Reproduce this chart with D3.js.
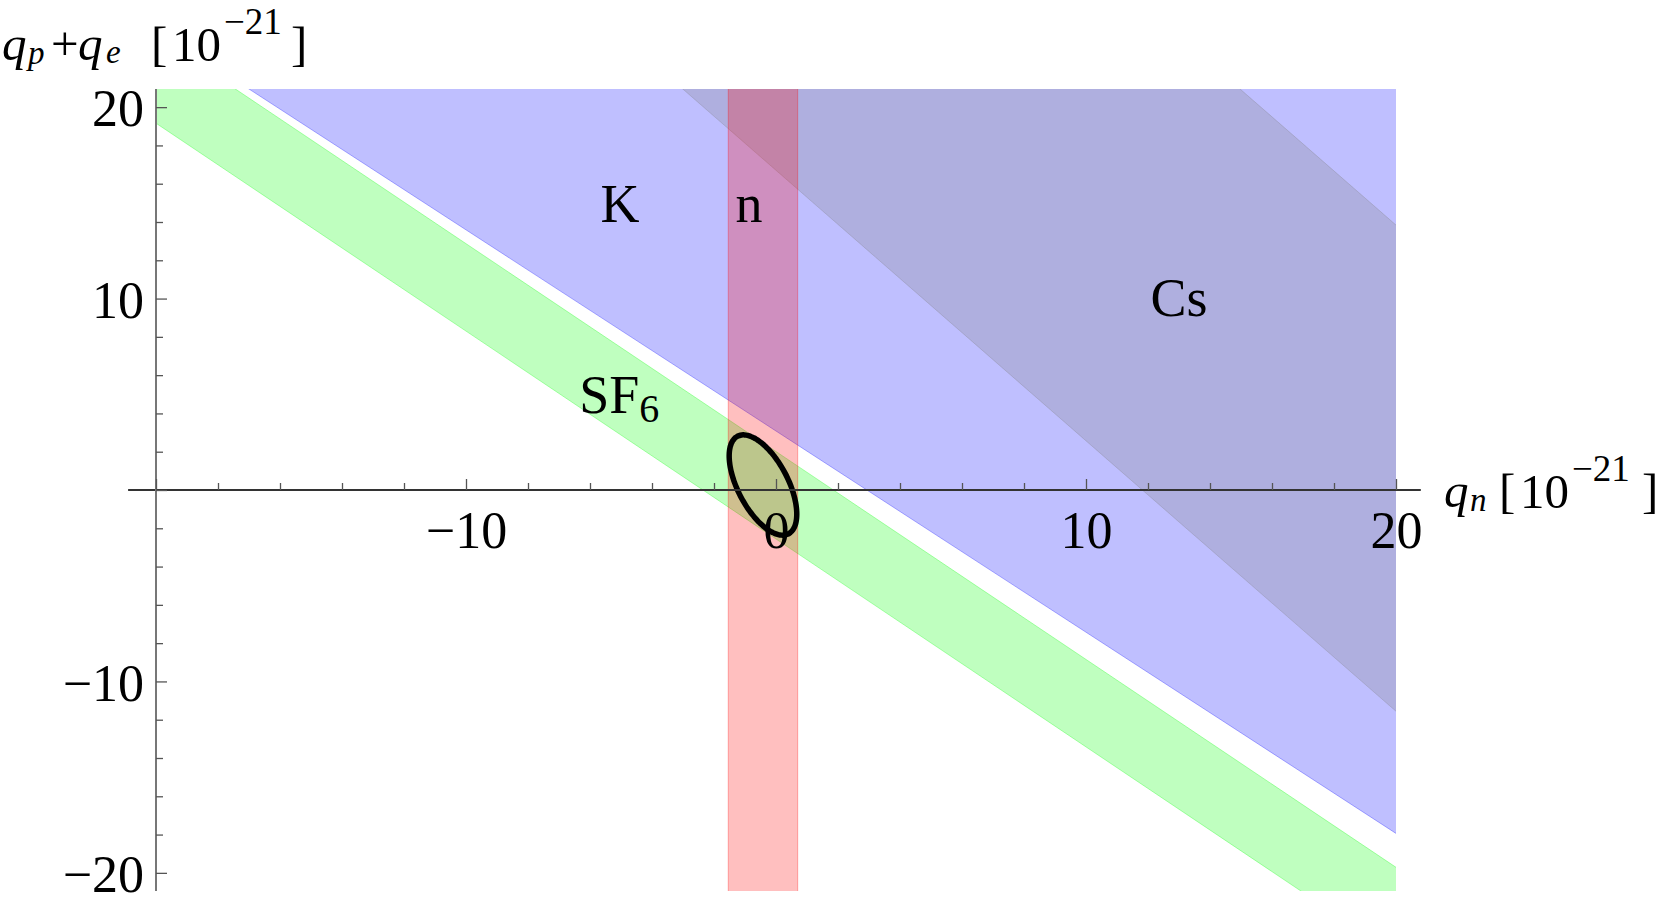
<html>
<head>
<meta charset="utf-8">
<style>
  body { margin: 0; background: #fff; }
  text { font-family: "Liberation Serif", "DejaVu Serif", serif; fill: #000; }
</style>
</head>
<body>
<svg width="1667" height="906" class="chart"></svg>
<script src="https://d3js.org/d3.v7.min.js" charset="utf-8"></script>
<script>
    // bands: q_p+q_e = slope * q_n + intercept, intercept between low and high
    bandNames = ["K", "Cs", "SF6"]
    bandSlopes = [-1.051, -1.413, -1.086]
    bandLow = [3.08, 16.7, -2.56]
    bandHigh = [60, 42.1, 2.01]
    bandColors = ["#0000ff", "#808080", "#00ff00"]
    // free neutron bound on q_n
    nRange = [-1.54, 0.70]
    // combined result: centre, half-extents, correlation
    ellCenter = [-0.42, 0.26]
    ellSigma = [1.09, 2.62]
    ellRho = -0.58
    xTicksMajor = [-20, -10, 0, 10, 20]
    xTickLabels = [-10, 0, 10, 20]
    yTicksMajor = [-20, -10, 0, 10, 20]
    yTickLabels = [-20, -10, 10, 20]
    minorTicks = d3.range(-20, 21, 2).filter(function(d){ return d % 10 != 0 })

    var svg = d3.select(".chart")
    var x = d3.scaleLinear().domain([-20, 20]).range([156, 1396])
    var y = d3.scaleLinear().domain([-21, 21]).range([892, 88])
    var xLo = -20, xHi = 20, yLo = -20.95, yHi = 20.95

    svg.append("clipPath").attr("id", "plot")
        .append("rect")
        .attr("x", x(xLo)).attr("y", y(yHi))
        .attr("width", x(xHi) - x(xLo)).attr("height", y(yLo) - y(yHi))

    var g = svg.append("g").attr("clip-path", "url(#plot)")
    var line = d3.line().x(function(d){ return x(d[0]) }).y(function(d){ return y(d[1]) })

    bandNames.forEach(function(name, i){
        var s = bandSlopes[i]
        var pts = [[xLo, s*xLo + bandLow[i]], [xHi, s*xHi + bandLow[i]],
                   [xHi, s*xHi + bandHigh[i]], [xLo, s*xLo + bandHigh[i]]]
        g.append("path").attr("d", line(pts) + "Z")
            .attr("fill", bandColors[i]).attr("fill-opacity", 0.25)
        ;[bandLow[i], bandHigh[i]].forEach(function(c){
            g.append("path").attr("d", line([[xLo, s*xLo + c], [xHi, s*xHi + c]]))
                .attr("fill", "none").attr("stroke", bandColors[i])
                .attr("stroke-opacity", 0.3).attr("stroke-width", 1)
        })
    })

    g.append("rect")
        .attr("x", x(nRange[0])).attr("y", y(yHi))
        .attr("width", x(nRange[1]) - x(nRange[0])).attr("height", y(yLo) - y(yHi))
        .attr("fill", "#ff0000").attr("fill-opacity", 0.25)
    nRange.forEach(function(v){
        g.append("path").attr("d", line([[v, yLo], [v, yHi]]))
            .attr("stroke", "#ff0000").attr("stroke-opacity", 0.3).attr("stroke-width", 1)
    })

    // ellipse outline
    var ang = d3.range(0, 361, 3).map(function(a){ return a * Math.PI / 180 })
    var dl = Math.acos(ellRho)
    var ell = ang.map(function(t){
        return [ellCenter[0] + ellSigma[0]*Math.cos(t), ellCenter[1] + ellSigma[1]*Math.cos(t - dl)]
    })
    g.append("path").attr("d", d3.line().curve(d3.curveCardinalClosed)
            .x(function(d){ return x(d[0]) }).y(function(d){ return y(d[1]) })(ell.slice(0, -1)))
        .attr("fill", "#bcc68c").attr("stroke", "#000").attr("stroke-width", 5.5)

    // axes
    var fs = 52
    svg.append("line").attr("x1", x(-20.9)).attr("x2", x(20.8))
        .attr("y1", y(0)).attr("y2", y(0)).attr("stroke", "#333").attr("stroke-width", 2)
    svg.append("line").attr("x1", x(-20)).attr("x2", x(-20))
        .attr("y1", y(yHi)).attr("y2", y(yLo)).attr("stroke", "#777").attr("stroke-width", 2)

    svg.append("g").attr("transform", "translate(0," + y(0) + ")")
        .call(d3.axisBottom(x).tickValues(xTicksMajor).tickSizeInner(-11).tickSizeOuter(0)
            .tickPadding(21).tickFormat(function(d){ return xTickLabels.indexOf(d) >= 0 ? d3.format("d")(d) : "" }))
    svg.append("g").attr("transform", "translate(0," + y(0) + ")")
        .call(d3.axisBottom(x).tickValues(minorTicks).tickSizeInner(-7).tickSizeOuter(0).tickFormat(""))
    var yAx = svg.append("g").attr("transform", "translate(" + x(-20) + ",0)")
        .call(d3.axisLeft(y).tickValues(yTicksMajor).tickSizeInner(-11).tickSizeOuter(0)
            .tickPadding(12).tickFormat(function(d){ return yTickLabels.indexOf(d) >= 0 ? d3.format("d")(d) : "" }))
    svg.append("g").attr("transform", "translate(" + x(-20) + ",0)")
        .call(d3.axisLeft(y).tickValues(minorTicks).tickSizeInner(-7).tickSizeOuter(0).tickFormat(""))
    svg.selectAll(".domain").remove()
    svg.selectAll(".tick line").attr("stroke", "#555").attr("stroke-width", 1.3)
    svg.selectAll(".tick text").attr("font-family", null).style("font-size", fs + "px").attr("fill", "#000")
    yAx.selectAll(".tick text").attr("dy", "0.36em")

    // axis titles
    function piece(t, px, py, size, italic, str){
        t.append("tspan").attr("x", px).attr("y", py).style("font-size", size + "px")
            .style("font-style", italic ? "italic" : "normal").text(str)
    }
    var yt = svg.append("text")
    piece(yt, 2, 60, 49, true, "q")
    piece(yt, 28, 64, 33, true, "p")
    piece(yt, 51, 60, 49, false, "+")
    piece(yt, 78, 60, 49, true, "q")
    piece(yt, 106, 63, 33, true, "e")
    piece(yt, 151, 60, 49, false, "[")
    piece(yt, 172, 61, 49, false, "10")
    piece(yt, 224, 34, 37, false, "\u221221")
    piece(yt, 291, 60, 49, false, "]")

    var xt = svg.append("text")
    piece(xt, 1444, 507, 49, true, "q")
    piece(xt, 1470, 511, 33, true, "n")
    piece(xt, 1499, 507, 49, false, "[")
    piece(xt, 1520, 508, 49, false, "10")
    piece(xt, 1572, 481, 37, false, "\u221221")
    piece(xt, 1642, 507, 49, false, "]")

    // band labels
    var lab = [["K", -5.03, 14.0], ["n", -0.87, 14.0], ["Cs", 13.0, 9.1]]
    lab.forEach(function(d){
        svg.append("text").attr("x", x(d[1])).attr("y", y(d[2]))
            .attr("text-anchor", "middle").style("font-size", "54px").text(d[0])
    })
    var sf = svg.append("text").attr("x", x(-6.35)).attr("y", y(4.0)).style("font-size", "54px")
    sf.append("tspan").text("SF")
    sf.append("tspan").attr("dy", 9).style("font-size", "40px").text("6")
</script>
</body>
</html>
